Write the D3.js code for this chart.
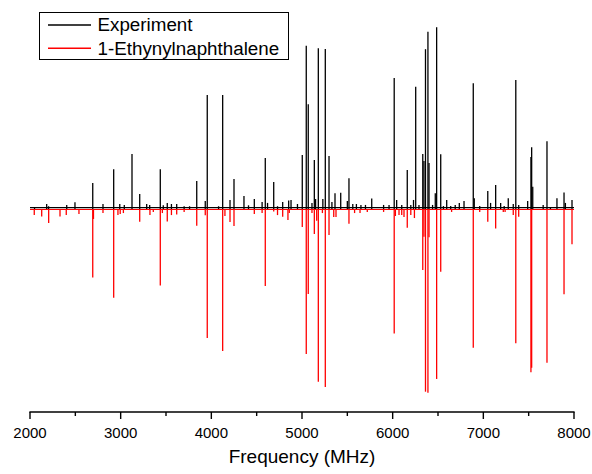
<!DOCTYPE html>
<html>
<head>
<meta charset="utf-8">
<script src="https://cdn.jsdelivr.net/npm/d3@7"></script>
<style>
  html, body { margin: 0; padding: 0; background: #fff; }
  svg { display: block; font-family: "Liberation Sans", Arial, sans-serif; }
</style>
</head>
<body>
<svg id="chart" width="592" height="474"></svg>
<script>
// ---- data ----
const expFreq = [2050, 2184, 2205, 2405, 2496, 2692, 2805, 2923, 2990, 3040, 3125, 3210, 3287, 3320, 3437, 3470, 3514, 3560, 3618, 3700, 3760, 3839, 3933, 3955, 4080, 4125, 4206, 4250, 4360, 4410, 4474, 4560, 4595, 4620, 4688, 4730, 4787, 4853, 4879, 4950, 5003, 5047, 5069, 5110, 5136, 5150, 5180, 5230, 5257, 5298, 5330, 5364, 5427, 5500, 5518, 5560, 5600, 5650, 5700, 5769, 5900, 5960, 6017, 6044, 6100, 6161, 6200, 6230, 6254, 6290, 6332, 6345, 6362, 6389, 6401, 6440, 6470, 6485, 6530, 6560, 6596, 6640, 6690, 6735, 6787, 6889, 6900, 6960, 7049, 7080, 7136, 7191, 7230, 7275, 7330, 7358, 7390, 7489, 7525, 7533, 7545, 7660, 7702, 7740, 7812, 7890, 7905, 7978];
const expInt  = [1, 2.7, 1.5, 2.2, 3.6, 14.1, 2.7, 21.5, 2.7, 2.2, 29.8, 8.1, 2.7, 2.2, 21.5, 2, 3.3, 2.7, 2.7, 1.5, 1.5, 15.2, 4.3, 61.8, 1.5, 61.8, 4.9, 16.3, 7, 2, 5.4, 3.8, 27.6, 3.3, 14.6, 1.5, 3.8, 4.6, 4.9, 2.7, 29.3, 88.5, 56.7, 3.3, 26.6, 5.4, 87.1, 5.4, 86.7, 28.7, 3.8, 8.5, 8.8, 4.3, 16.6, 2.7, 2.7, 2.2, 2.2, 5.7, 2.2, 2.2, 71, 4.9, 2.2, 21.1, 2.2, 4.9, 66.3, 2.2, 29.8, 26, 86.6, 96.1, 24.9, 2.2, 8.5, 98.5, 29.6, 1.6, 4.9, 1.6, 2.2, 3.3, 4.3, 68.1, 5.8, 1.6, 9.8, 3.3, 13, 3.3, 1.6, 5.8, 2.7, 69.9, 2.2, 4.3, 28.2, 33.4, 12, 2.2, 36.7, 1.1, 5.8, 9, 3.3, 4.9];

const simFreq = [2047, 2129, 2206, 2331, 2400, 2540, 2692, 2700, 2805, 2923, 2970, 2995, 3030, 3210, 3323, 3360, 3437, 3460, 3514, 3560, 3618, 3700, 3839, 3933, 3955, 4125, 4150, 4206, 4250, 4474, 4560, 4595, 4688, 4730, 4787, 4845, 4860, 5003, 5047, 5069, 5110, 5136, 5162, 5180, 5225, 5257, 5298, 5350, 5375, 5518, 5580, 5640, 5720, 5900, 6017, 6030, 6070, 6100, 6125, 6161, 6200, 6240, 6332, 6345, 6362, 6389, 6401, 6485, 6530, 6650, 6889, 6960, 7049, 7136, 7220, 7240, 7330, 7358, 7390, 7525, 7533, 7702, 7890, 7978];
const simInt  = [3.3, 4.1, 7.6, 4.1, 3.3, 2.7, 37.1, 5.4, 2.2, 48.1, 3.3, 2.7, 2.2, 6.9, 3.3, 1.6, 41.4, 2.2, 6.8, 3.3, 3, 1.6, 9.1, 3.4, 69.9, 77, 3.8, 7, 9.2, 2.7, 2.2, 41.7, 1.4, 3.3, 4.2, 6, 2.2, 9.8, 78.6, 46.1, 2.2, 13.6, 6.3, 93.6, 2.2, 96.5, 14.1, 4.3, 4.3, 8, 2.2, 2.2, 1.6, 1.6, 67.4, 3.8, 3.3, 3.3, 4.3, 10.1, 3.3, 4.9, 33.1, 15, 99, 99.6, 15.3, 92.1, 34, 1.6, 75.2, 1.6, 6.9, 10.5, 1.6, 1.6, 3.3, 72.8, 4.2, 88.5, 86, 83.3, 46.2, 19.1];

const xTicks = [2000, 3000, 4000, 5000, 6000, 7000, 8000];
const xMinorTicks = [2500, 3500, 4500, 5500, 6500, 7500];
const seriesNames = ["Experiment", "1-Ethynylnaphthalene"];
const seriesColors = ["#000000", "#ff0000"];
const xTitle = "Frequency (MHz)";

// ---- layout ----
const svg = d3.select("#chart");
const x = d3.scaleLinear().domain([2000, 8000]).range([30, 574]);
const y = d3.scaleLinear().domain([-110, 110]).range([412, 6]);

// experiment sticks (up)
const gExp = svg.append("g");
gExp.append("line")
  .attr("x1", x(2000)).attr("x2", x(8000))
  .attr("y1", y(0.7)).attr("y2", y(0.7))
  .attr("stroke", seriesColors[0]).attr("stroke-width", 1.2);
gExp.selectAll("line.stick").data(expFreq.map((f, i) => [f, expInt[i]]))
  .join("line").attr("class", "stick")
  .attr("x1", d => x(d[0])).attr("x2", d => x(d[0]))
  .attr("y1", y(0)).attr("y2", d => y(d[1]))
  .attr("stroke", seriesColors[0]).attr("stroke-width", 1.3);

// simulation sticks (down)
const gSim = svg.append("g");
gSim.selectAll("line.stick").data(simFreq.map((f, i) => [f, simInt[i]]))
  .join("line").attr("class", "stick")
  .attr("x1", d => x(d[0])).attr("x2", d => x(d[0]))
  .attr("y1", y(0)).attr("y2", d => y(-d[1]))
  .attr("stroke", seriesColors[1]).attr("stroke-width", 1.3);
gSim.append("line")
  .attr("x1", x(2000)).attr("x2", x(8000))
  .attr("y1", y(-0.3)).attr("y2", y(-0.3))
  .attr("stroke", seriesColors[1]).attr("stroke-width", 1.1);

// bottom axis
const axisY = 412;
const gAxis = svg.append("g").attr("transform", `translate(0,${axisY})`);
gAxis.append("line").attr("x1", x(2000) - 0.6).attr("x2", x(8000) + 0.6)
  .attr("y1", 0).attr("y2", 0).attr("stroke", "#000").attr("stroke-width", 1.4);
gAxis.selectAll("line.major").data(xTicks).join("line").attr("class", "major")
  .attr("x1", d => x(d)).attr("x2", d => x(d)).attr("y1", 0).attr("y2", 7)
  .attr("stroke", "#000").attr("stroke-width", 1.4);
gAxis.selectAll("line.minor").data(xMinorTicks).join("line").attr("class", "minor")
  .attr("x1", d => x(d)).attr("x2", d => x(d)).attr("y1", 0).attr("y2", 4)
  .attr("stroke", "#000").attr("stroke-width", 1.4);
gAxis.selectAll("text").data(xTicks).join("text")
  .attr("x", d => x(d)).attr("y", 25.5)
  .attr("text-anchor", "middle").attr("font-size", 15).attr("fill", "#000")
  .text(d => d);

svg.append("text").attr("x", 302).attr("y", 463)
  .attr("text-anchor", "middle").attr("font-size", 19).attr("fill", "#000")
  .text(xTitle);

// legend
const gLeg = svg.append("g");
gLeg.append("rect").attr("x", 39.5).attr("y", 12.5).attr("width", 249).attr("height", 47)
  .attr("fill", "#fff").attr("stroke", "#000").attr("stroke-width", 1);
seriesNames.forEach((name, i) => {
  const ly = 25 + i * 23.3;
  gLeg.append("line").attr("x1", 48).attr("x2", 91).attr("y1", ly).attr("y2", ly)
    .attr("stroke", seriesColors[i]).attr("stroke-width", 1.4);
  gLeg.append("text").attr("x", 97.5).attr("y", ly + 6.2)
    .attr("font-size", 18.8).attr("fill", "#000").text(name);
});
</script>
</body>
</html>
